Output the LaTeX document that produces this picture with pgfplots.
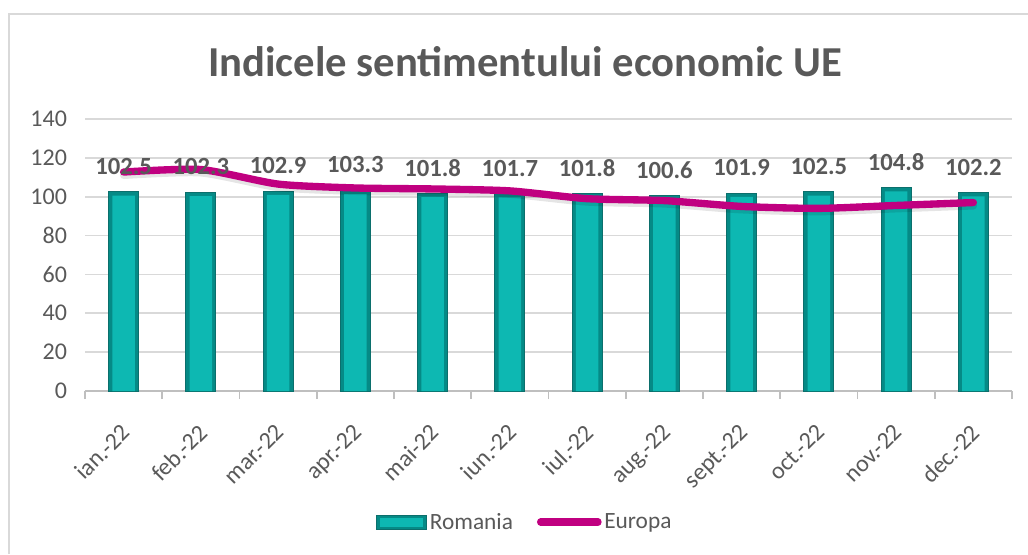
\documentclass[border=0pt]{standalone}
\usepackage{pgfplots}
\pgfplotsset{compat=1.18}
\usepackage{fontspec}
\setmainfont{Carlito}

\definecolor{txt}{HTML}{595959}
\definecolor{gridc}{HTML}{D9D9D9}
\definecolor{axisc}{HTML}{BFBFBF}
\definecolor{barmid}{HTML}{0DB8B2}
\definecolor{baredge}{HTML}{058A86}
\definecolor{barline}{HTML}{0B6F6C}
\definecolor{europa}{HTML}{C00080}

\pgfplotsset{
    barlegend/.style={legend image code/.code={
        \draw[##1] (0pt,-5.25pt) rectangle (38pt,5.25pt);
        \fill[barmid] (3pt,-3pt) rectangle (35pt,3pt);}},
    linelegend/.style={legend image code/.code={
        \draw[##1] (0pt,0pt) -- (43pt,0pt);}},
}

\begin{document}
\begin{tikzpicture}[x=1pt,y=1pt]
\path[use as bounding box] (0,0) rectangle (771,415.5);
\draw[gridc, line width=1.5pt] (6.75,0) |- (771,405);

\node[font=\fontsize{32}{36}\selectfont\bfseries, text=txt] at (393.75,369) {Indicele sentimentului economic UE};

\begin{axis}[
    at={(63.75pt,122.25pt)}, anchor=south west,
    scale only axis,
    width=695.25pt, height=204pt,
    xmin=-0.5, xmax=11.5,
    ymin=0, ymax=140,
    ytick={0,20,...,140},
    xtick={-0.5,0.5,...,11.5},
    x tick label as interval,
    xticklabels={ian.-22,feb.-22,mar.-22,apr.-22,mai-22,iun.-22,iul.-22,aug.-22,sept.-22,oct.-22,nov.-22,dec.-22},
    xtick style={axisc, line width=1.2pt},
    major tick length=6pt, tick align=outside,
    axis line style={draw=none},
    axis x line*=bottom,
    ymajorgrids, grid style={gridc, line width=1.2pt},
    ytick style={draw=none},
    /pgf/number format/assume math mode=true,
    tick label style={font=\fontsize{18}{21}\selectfont, text=txt},
    xticklabel style={rotate=45, anchor=north east, xshift=-11pt, yshift=-7pt},
    yticklabel style={xshift=-4pt},
    clip=false,
    legend style={at={(0.4746,-0.4816)}, anchor=center, draw=none, fill=none,
        legend columns=2, font=\fontsize{17.5}{20}\selectfont, text=txt,
        /tikz/every even column/.append style={column sep=16pt},
        inner sep=0pt},
]
\draw[axisc, line width=1.5pt] (axis cs:-0.5,0) -- (axis cs:11.5,0);

\addplot[ybar, bar width=22.5pt, draw=barline, line width=0.6pt, fill=baredge,
    nodes near coords,
    nodes near coords style={font=\fontsize{18.5}{21}\selectfont\bfseries, text=txt,
        anchor=center, yshift=19pt,
        /pgf/number format/.cd, fixed, fixed zerofill, precision=1, assume math mode=true},
    barlegend]
    coordinates {
    (0,102.5)(1,102.3)(2,102.9)(3,103.3)(4,101.8)(5,101.7)
    (6,101.8)(7,100.6)(8,101.9)(9,102.5)(10,104.8)(11,102.2)
    };
    \addlegendentry{Romania}

\addplot[ybar, bar width=17pt, draw=none, fill=barmid, forget plot]
    coordinates {
    (0,100.5)(1,100.3)(2,100.9)(3,101.3)(4,99.8)(5,99.7)
    (6,99.8)(7,98.6)(8,99.9)(9,100.5)(10,102.8)(11,100.2)
    };

\addplot[black, opacity=0.10, line width=5.5pt, smooth, tension=0.4, line cap=round,
    yshift=-2.5pt, forget plot]
    coordinates {
    (0,112.7)(1,114.0)(2,106.5)(3,104.5)(4,104.0)(5,103.0)
    (6,99.0)(7,98.0)(8,95.0)(9,94.0)(10,95.5)(11,97.0)
    };

\addplot[europa, line width=5.5pt, smooth, tension=0.4, line cap=round, linelegend]
    coordinates {
    (0,112.7)(1,114.0)(2,106.5)(3,104.5)(4,104.0)(5,103.0)
    (6,99.0)(7,98.0)(8,95.0)(9,94.0)(10,95.5)(11,97.0)
    };
    \addlegendentry{Europa}
\end{axis}
\end{tikzpicture}
\end{document}
